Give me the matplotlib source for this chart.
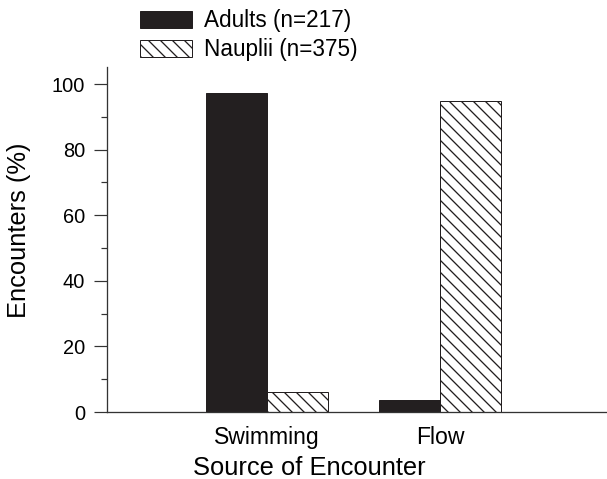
import matplotlib
matplotlib.use('Agg')
import matplotlib.pyplot as plt
import numpy as np

plt.rcParams['font.family'] = ['Liberation Sans', 'DejaVu Sans']
plt.rcParams['hatch.linewidth'] = 1.3

# data
categories = ['Swimming', 'Flow']
adults = [97.2, 3.7]
nauplii = [6.1, 94.9]
labels = ['Adults (n=217)', 'Nauplii (n=375)']

black = '#231f20'
dpi = 72
fig = plt.figure(figsize=(607 / dpi, 479 / dpi), dpi=dpi)
ax = fig.add_axes([107 / 607, 1 - 412 / 479, 1 - 107 / 607, (412 - 67) / 479])

x = np.arange(1, len(categories) + 1)
w = 0.3526
ax.bar(x - w / 2, adults, w, color=black, edgecolor=black, linewidth=1, label=labels[0])
ax.bar(x + w / 2, nauplii, w, color='white', edgecolor=black, hatch='\\\\',
       linewidth=1, label=labels[1])

ax.set_xlim(0.075, 2.965)
ax.set_ylim(0, 105.2)
ax.set_xticks(x)
ax.set_xticklabels(categories, fontsize=23)
ax.set_yticks([0, 20, 40, 60, 80, 100])
ax.set_yticks([10, 30, 50, 70, 90], minor=True)
ax.tick_params(axis='y', which='major', length=13, width=1.2, pad=9, labelsize=20, color='#333333')
ax.tick_params(axis='y', which='minor', length=6, width=1.2, color='#333333')
ax.tick_params(axis='x', length=0, pad=14)

for s in ['top', 'right']:
    ax.spines[s].set_visible(False)
for s in ['left', 'bottom']:
    ax.spines[s].set_linewidth(1.3)
    ax.spines[s].set_color('#333333')

ax.set_xlabel('Source of Encounter', fontsize=25.5, labelpad=7)
ax.xaxis.set_label_coords((309 - 107) / 500, -0.128)
ax.set_ylabel('Encounters (%)', fontsize=25.5)
ax.yaxis.set_label_coords(-(107 - 31) / 500, (412 - 230) / 345)

fig.legend(loc='upper left', bbox_to_anchor=(140 / 607, 1 - 9 / 479), frameon=False,
           fontsize=22.5, handlelength=2.3, handleheight=0.8, handletextpad=0.55,
           labelspacing=0.28, borderpad=0, borderaxespad=0)

fig.savefig('out.png', dpi=dpi)
